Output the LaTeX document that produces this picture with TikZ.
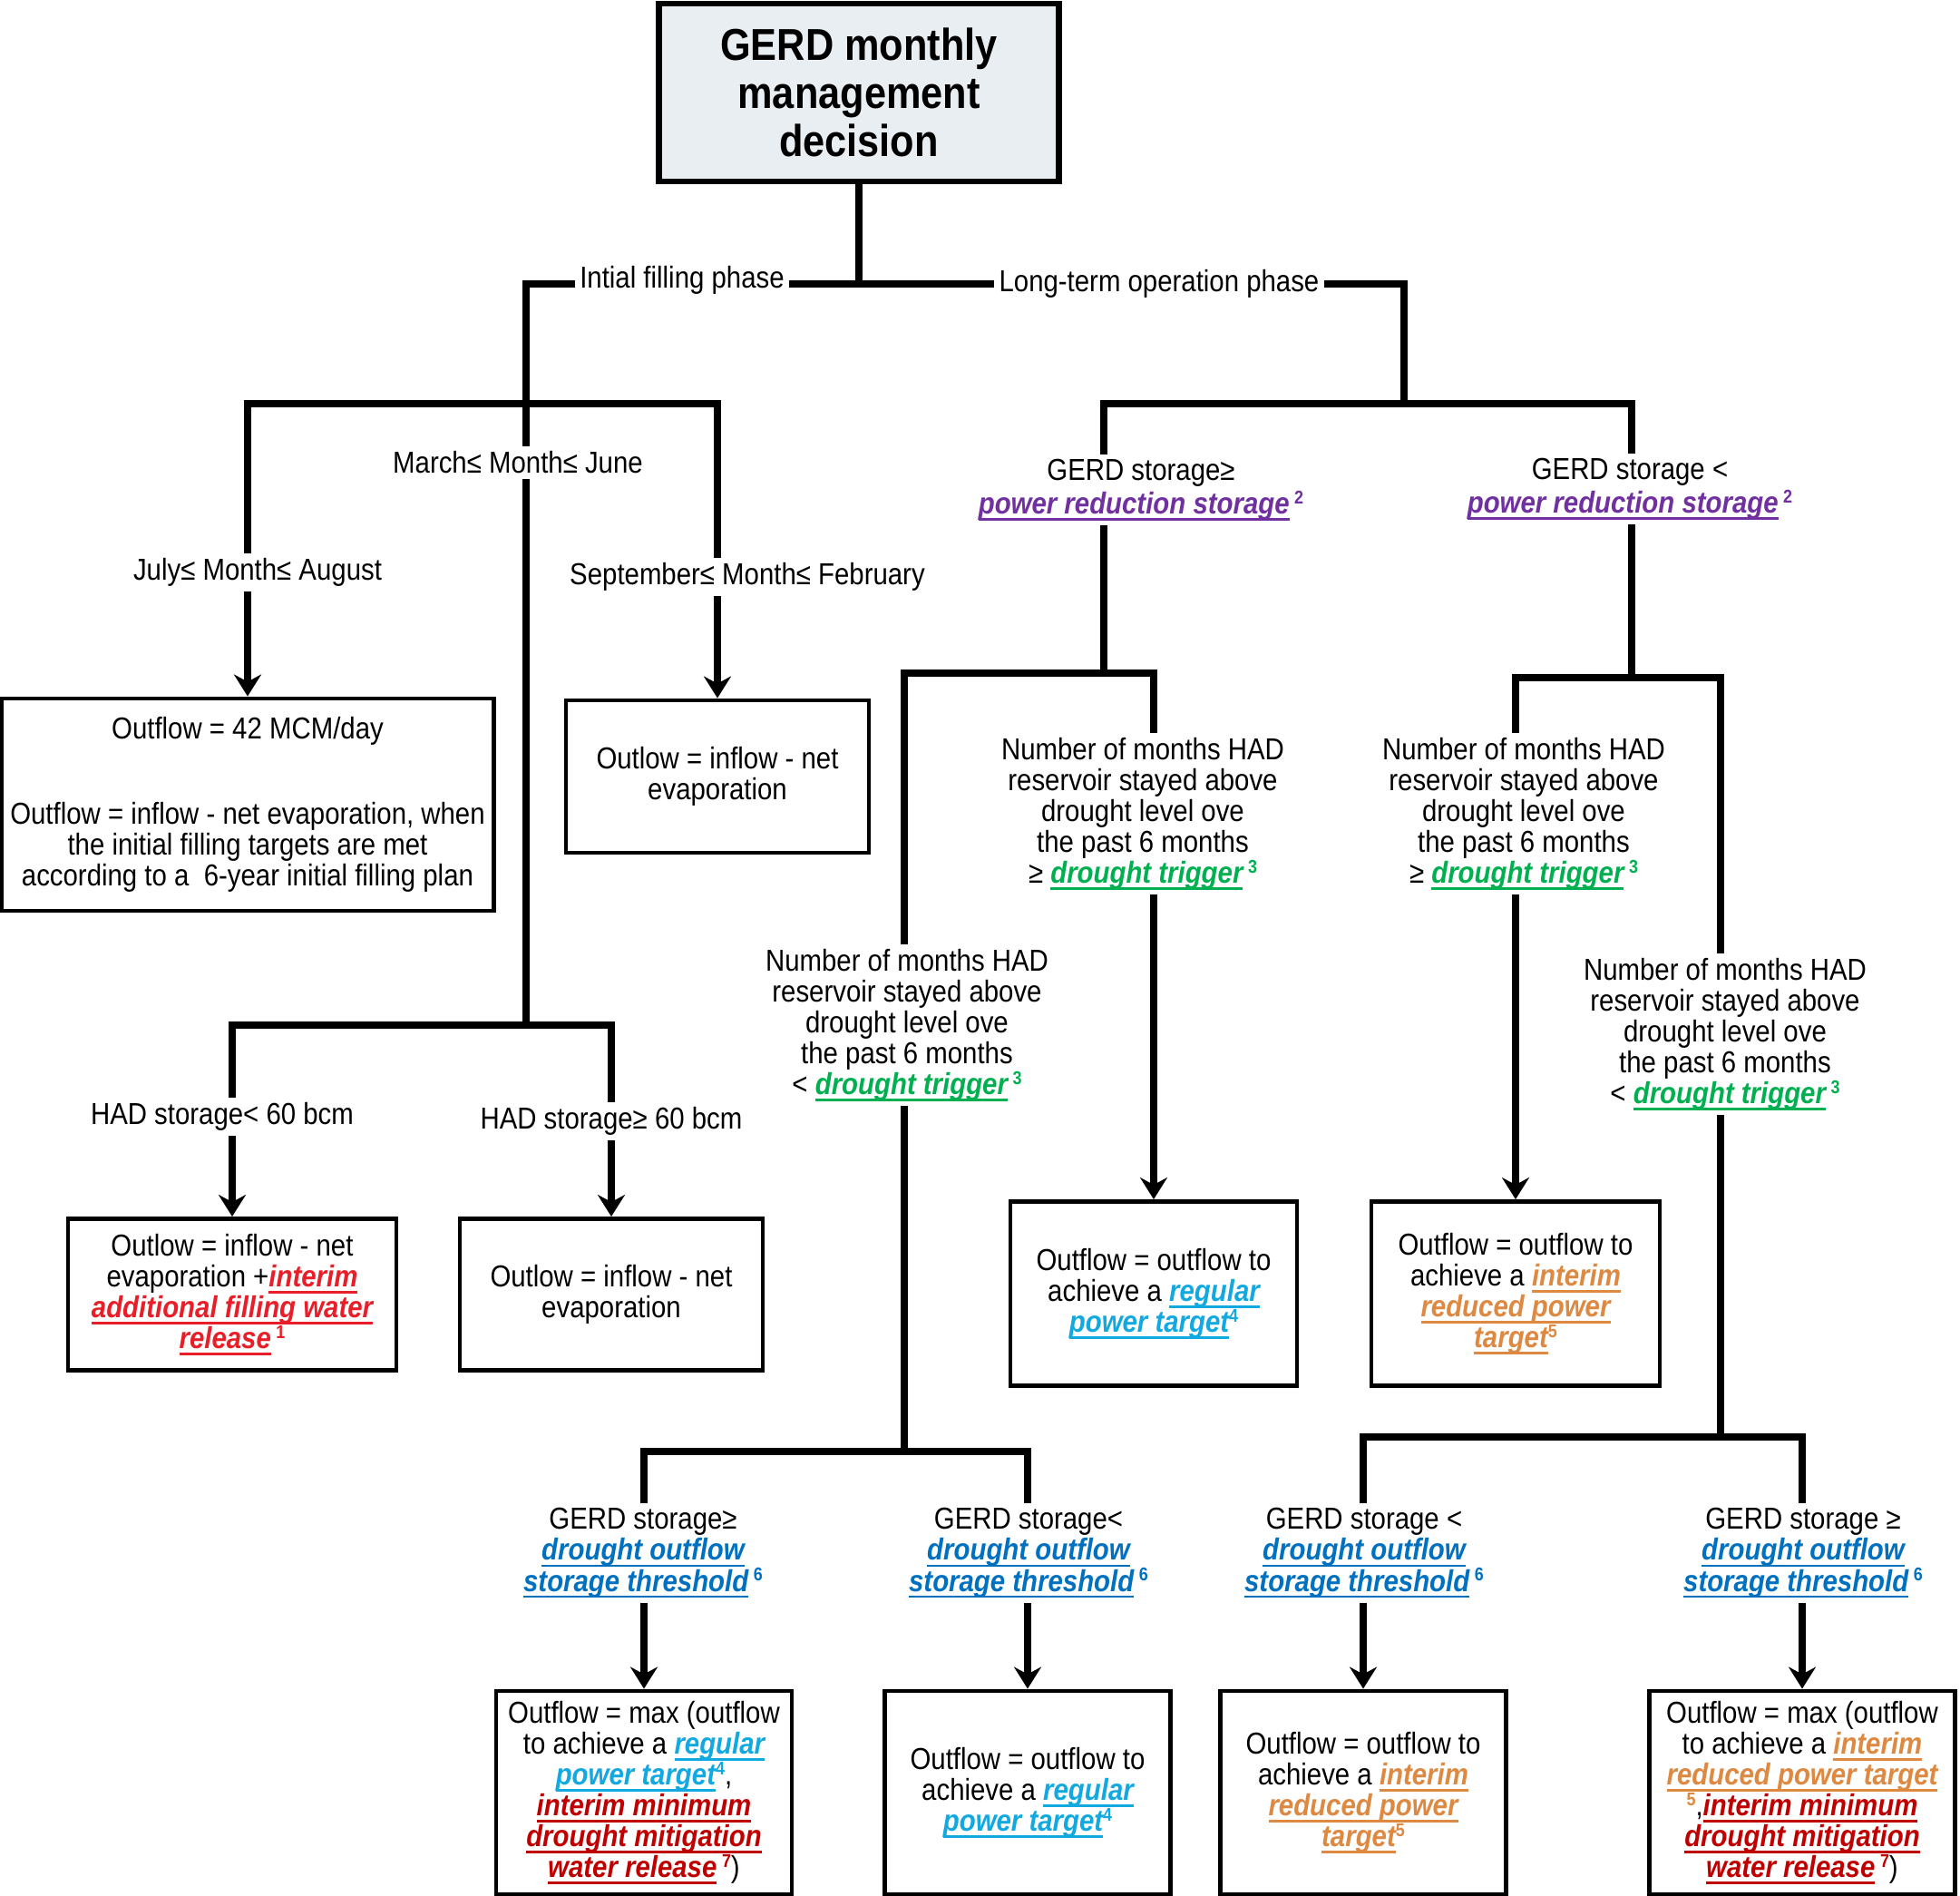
\documentclass[tikz,border=0pt]{standalone}
\usepackage{fontspec}
\setmainfont{Liberation Sans}[FakeStretch=0.88]
\usepackage{xcolor}
\usepackage{tikz}
\usetikzlibrary{arrows.meta}

\definecolor{titlefill}{RGB}{233,238,242}
\definecolor{purp}{RGB}{112,48,160}
\definecolor{grn}{RGB}{0,176,80}
\definecolor{regblue}{RGB}{18,168,224}
\definecolor{orng}{RGB}{222,137,66}
\definecolor{dblue}{RGB}{0,112,192}
\definecolor{fillred}{RGB}{232,30,40}
\definecolor{dred}{RGB}{192,0,0}

% underline that does not change the line depth
\newcommand{\ulfix}[1]{\setbox0\hbox{#1}\rlap{\vrule height -1.3pt depth 2.1pt width \wd0}\box0}
% coloured terms and their footnote marks
\newcommand{\hterm}[2]{\textcolor{#1}{\ulfix{\bfseries\itshape #2}}}
\newcommand{\hsup}[2]{\smash{\textcolor{#1}{\raisebox{3.2pt}{\fontsize{5.8}{6}\selectfont\bfseries #2}}}}

\begin{document}
\begin{tikzpicture}[
        % Define styles for consistency
        topbox/.style={
            rectangle,
            draw=black,
            line width=1.9pt,
            fill=titlefill,
            minimum width=4.41cm,
            minimum height=1.96cm,
            align=center,
            font=\fontsize{14}{15}\selectfont\bfseries
        },
        outcome/.style={
            rectangle,
            draw=black,
            line width=1.4pt,
            fill=white,
            inner sep=1pt,
            align=center,
            font=\fontsize{9.5}{9.7}\selectfont
        },
        cond/.style={
            fill=white,
            inner sep=1.5pt,
            align=center,
            font=\fontsize{9.5}{9.7}\selectfont
        },
        line/.style={
            draw,
            line width=2pt,
            -{Stealth[length=2.4mm, width=3mm, inset=0.8mm]}
        },
        connector/.style={
            draw,
            line width=2pt
        }
    ]
    \useasboundingbox (0,0) rectangle (21.61,-20.90);

    % --- ROOT ---
    \node[topbox] (root) at (9.47,-1.02) {GERD monthly\\management\\decision};

    % --- OUTCOMES, INITIAL FILLING PHASE ---
    \node[outcome, minimum width=5.43cm, minimum height=2.34cm] (boxA) at (2.73,-8.87)
        {Outflow = 42 MCM/day\\[17pt]Outflow = inflow - net evaporation, when\\the initial filling targets are met\\according to a \ 6-year initial filling plan};
    \node[outcome, minimum width=3.34cm, minimum height=1.68cm] (boxB) at (7.91,-8.56)
        {Outlow = inflow - net\\evaporation};
    \node[outcome, minimum width=3.62cm, minimum height=1.67cm] (boxC) at (2.56,-14.27)
        {Outlow = inflow - net\\evaporation +\hterm{fillred}{interim}\\\hterm{fillred}{additional filling water}\\\hterm{fillred}{release}\,\hsup{fillred}{1}};
    \node[outcome, minimum width=3.34cm, minimum height=1.67cm] (boxD) at (6.74,-14.27)
        {Outlow = inflow - net\\evaporation};

    % --- OUTCOMES, LONG-TERM OPERATION PHASE ---
    \node[outcome, minimum width=3.16cm, minimum height=2.03cm] (boxE) at (12.72,-14.26)
        {Outflow = outflow to\\achieve a \hterm{regblue}{regular}\\\hterm{regblue}{power target}\hsup{regblue}{4}};
    \node[outcome, minimum width=3.18cm, minimum height=2.03cm] (boxF) at (16.71,-14.26)
        {Outflow = outflow to\\achieve a \hterm{orng}{interim}\\\hterm{orng}{reduced power}\\\hterm{orng}{target}\hsup{orng}{5}};
    \node[outcome, minimum width=3.26cm, minimum height=2.24cm] (boxG) at (7.10,-19.76)
        {Outflow = max (outflow\\to achieve a \hterm{regblue}{regular}\\\hterm{regblue}{power target}\hsup{regblue}{4},\\\hterm{dred}{interim minimum}\\\hterm{dred}{drought mitigation}\\\hterm{dred}{water release}\,\hsup{dred}{7})};
    \node[outcome, minimum width=3.15cm, minimum height=2.24cm] (boxH) at (11.33,-19.76)
        {Outflow = outflow to\\achieve a \hterm{regblue}{regular}\\\hterm{regblue}{power target}\hsup{regblue}{4}};
    \node[outcome, minimum width=3.15cm, minimum height=2.24cm] (boxI) at (15.03,-19.76)
        {Outflow = outflow to\\achieve a \hterm{orng}{interim}\\\hterm{orng}{reduced power}\\\hterm{orng}{target}\hsup{orng}{5}};
    \node[outcome, minimum width=3.37cm, minimum height=2.24cm] (boxJ) at (19.87,-19.76)
        {Outflow = max (outflow\\to achieve a \hterm{orng}{interim}\\\hterm{orng}{reduced power target}\\\hsup{orng}{5},\hterm{dred}{interim minimum}\\\hterm{dred}{drought mitigation}\\\hterm{dred}{water release}\,\hsup{dred}{7})};

    % Branch points
    \coordinate (rootJ) at (9.47,-3.13);
    \coordinate (fillJ) at (5.80,-4.45);
    \coordinate (hadJ) at (5.80,-11.30);
    \coordinate (longJ) at (15.48,-4.45);
    \coordinate (prgeJ) at (12.17,-7.42);
    \coordinate (prltJ) at (17.99,-7.47);
    \coordinate (dtltJ) at (9.97,-16.00);
    \coordinate (dtgeJ) at (18.97,-15.84);

    % Connections from the root
    \draw[connector] (root.south) -- (rootJ);
    \draw[connector] (rootJ) -| (fillJ);
    \draw[connector] (rootJ) -| (longJ);

    % Initial filling phase
    \draw[line] (fillJ) -| (boxA.north);
    \draw[line] (fillJ) -| (boxB.north);
    \draw[connector] (fillJ) -- (hadJ);
    \draw[line] (hadJ) -| (boxC.north);
    \draw[line] (hadJ) -| (boxD.north);

    % Long-term operation phase
    \draw[connector] (longJ) -| (prgeJ);
    \draw[connector] (longJ) -| (prltJ);
    \draw[connector] (prgeJ) -| (dtltJ);
    \draw[line] (prgeJ) -| (boxE.north);
    \draw[line] (prltJ) -| (boxF.north);
    \draw[connector] (prltJ) -| (dtgeJ);
    \draw[line] (dtltJ) -| (boxG.north);
    \draw[line] (dtltJ) -| (boxH.north);
    \draw[line] (dtgeJ) -| (boxI.north);
    \draw[line] (dtgeJ) -| (boxJ.north);

    % --- CONDITION LABELS (on top of the lines) ---
    \node[cond] (init) at (7.52,-3.09) {Intial filling phase};
    \node[cond] (long) at (12.78,-3.13) {Long-term operation phase};
    \node[cond] (march) at (5.71,-5.10) {March≤ Month≤ June};
    \node[cond] (july) at (2.84,-6.31) {July≤ Month≤ August};
    \node[cond] (sep) at (8.24,-6.36) {September≤ Month≤ February};
    \node[cond] (hadlt) at (2.45,-12.31) {HAD storage< 60 bcm};
    \node[cond] (hadge) at (6.74,-12.36) {HAD storage≥ 60 bcm};

    \node[cond] (prge) at (12.58,-5.40) {GERD storage≥\\[1pt]\hterm{purp}{power reduction storage}\,\hsup{purp}{2}};
    \node[cond] (prlt) at (17.97,-5.39) {GERD storage <\\[1pt]\hterm{purp}{power reduction storage}\,\hsup{purp}{2}};

    \node[cond] (dtge1) at (12.60,-8.97) {Number of months HAD\\reservoir stayed above\\drought level ove\\the past 6 months\\≥ \hterm{grn}{drought trigger}\,\hsup{grn}{3}};
    \node[cond] (dtlt1) at (10.00,-11.30) {Number of months HAD\\reservoir stayed above\\drought level ove\\the past 6 months\\< \hterm{grn}{drought trigger}\,\hsup{grn}{3}};
    \node[cond] (dtge2) at (16.80,-8.97) {Number of months HAD\\reservoir stayed above\\drought level ove\\the past 6 months\\≥ \hterm{grn}{drought trigger}\,\hsup{grn}{3}};
    \node[cond] (dtlt2) at (19.02,-11.40) {Number of months HAD\\reservoir stayed above\\drought level ove\\the past 6 months\\< \hterm{grn}{drought trigger}\,\hsup{grn}{3}};

    \node[cond] (ds1) at (7.09,-17.12) {GERD storage≥\\\hterm{dblue}{drought outflow}\\\hterm{dblue}{storage threshold}\,\hsup{dblue}{6}};
    \node[cond] (ds2) at (11.34,-17.12) {GERD storage<\\\hterm{dblue}{drought outflow}\\\hterm{dblue}{storage threshold}\,\hsup{dblue}{6}};
    \node[cond] (ds3) at (15.04,-17.12) {GERD storage <\\\hterm{dblue}{drought outflow}\\\hterm{dblue}{storage threshold}\,\hsup{dblue}{6}};
    \node[cond] (ds4) at (19.88,-17.12) {GERD storage ≥\\\hterm{dblue}{drought outflow}\\\hterm{dblue}{storage threshold}\,\hsup{dblue}{6}};

\end{tikzpicture}
\end{document}
